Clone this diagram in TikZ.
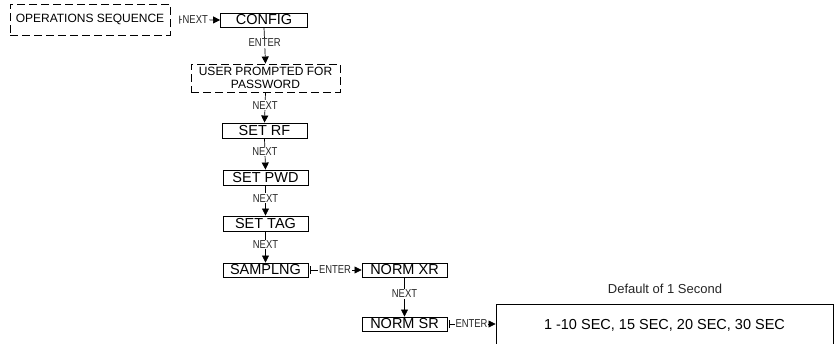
\documentclass[tikz,border=0pt]{standalone}
\usepackage{fontspec}
\setmainfont{Liberation Sans}
\newfontfamily\narrowfont[FakeStretch=0.82]{Liberation Sans}
\usetikzlibrary{arrows.meta}
\begin{document}
\begin{tikzpicture}[x=1pt,y=-1pt,
 box/.style={draw, line width=0.9pt, minimum height=15pt, minimum width=85pt, inner sep=0pt, font=\fontsize{14.5}{14.5}\selectfont},
 dbox/.style={draw, dash pattern=on 8pt off 4pt, line width=0.9pt, inner sep=0pt, font=\fontsize{12}{13.5}\selectfont, align=center},
 lab/.style={fill=white, inner sep=1pt, text=black!85, font=\narrowfont\fontsize{11.5}{11.5}\selectfont},
 conn/.style={line width=0.7pt, -{Triangle[length=7pt,width=7pt]}},
 hconn/.style={line width=0.7pt, {Bar[width=8pt]}-{Triangle[length=7pt,width=7pt]}},
]
\useasboundingbox (0,0) rectangle (840,343);
\clip (0,0) rectangle (840,343);
\fill[white] (0,0) rectangle (840,343);

\node[dbox, minimum width=160pt, minimum height=31pt] (ops) at (90,19.5) {OPERATIONS SEQUENCE};
\node[box, minimum width=87pt, minimum height=14pt] (config) at (264,20) {CONFIG};
\node[dbox, minimum width=149pt, minimum height=28pt] (user) at (265.5,78) {USER PROMPTED FOR\\PASSWORD};
\node[box] (setrf) at (264.5,130.5) {SET RF};
\node[box] (setpwd) at (265.5,177.5) {SET PWD};
\node[box] (settag) at (265.5,223.5) {SET TAG};
\node[box, minimum height=14pt] (samplng) at (265.5,270) {SAMPLNG};
\node[box, minimum height=14pt] (normxr) at (404.5,270) {NORM XR};
\node[box, minimum height=14pt] (normsr) at (404.5,324) {NORM SR};
\node[draw, line width=0.9pt, minimum width=337pt, minimum height=42pt, inner sep=0pt, font=\fontsize{14.5}{14.5}\selectfont] (range) at (664.5,325) {1 -10 SEC, 15 SEC, 20 SEC, 30 SEC};
\node[font=\fontsize{13}{13}\selectfont, text=black!85] (default) at (665,289) {Default of 1 Second};

\draw[hconn, shorten <=9pt] (ops.east) -- node[lab]{NEXT} (config.west);
\draw[conn] (config.south) -- node[lab, pos=0.42]{ENTER} (user.north);
\draw[conn] (user.south) -- node[lab, pos=0.42]{NEXT} (setrf.north);
\draw[conn] (setrf.south) -- node[lab, pos=0.42]{NEXT} (setpwd.north);
\draw[conn] (setpwd.south) -- node[lab, pos=0.42]{NEXT} (settag.north);
\draw[conn] (settag.south) -- node[lab, pos=0.42]{NEXT} (samplng.north);
\draw[hconn, shorten <=2pt] (samplng.east) -- node[lab]{ENTER} (normxr.west);
\draw[conn] (normxr.south) -- node[lab, pos=0.42]{NEXT} (normsr.north);
\draw[hconn, shorten <=1.5pt] (normsr.east) -- node[lab]{ENTER} (range.west |- normsr.east);
\end{tikzpicture}
\end{document}
